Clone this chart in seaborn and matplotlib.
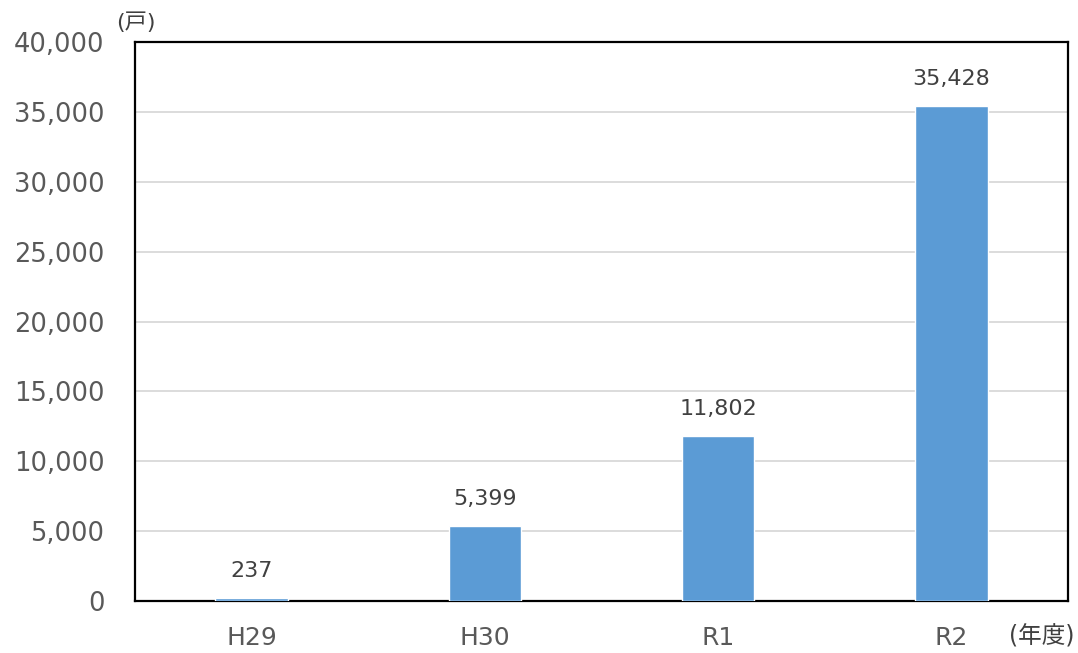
import pandas as pd
import matplotlib.pyplot as plt
import seaborn as sns

# data
years = ['H29', 'H30', 'R1', 'R2']
households = [237, 5399, 11802, 35428]
y_ticks = [0, 5000, 10000, 15000, 20000, 25000, 30000, 35000, 40000]

df = pd.DataFrame({'年度': years, '戸数': households})

sns.set_style('white')
plt.rcParams['font.family'] = ['DejaVu Sans', 'Noto Sans CJK JP']

fig = plt.figure(figsize=(10.78, 6.53), dpi=100)
ax = fig.add_axes([0.1252, 0.0796, 0.8655, 0.856])

sns.barplot(data=df, x='年度', y='戸数', color='#5b9bd5', width=0.31,
            saturation=1, ax=ax, zorder=3)

ax.set_ylim(0, 40000)
ax.set_yticks(y_ticks)
ax.set_yticklabels([f'{v:,}' for v in y_ticks])
ax.yaxis.grid(True, color='#d9d9d9', linewidth=1.3, zorder=0)
ax.set_axisbelow(True)

ax.tick_params(axis='y', length=0, pad=22, labelsize=18.5, labelcolor='#595959')
ax.tick_params(axis='x', length=0, pad=18, labelsize=18, labelcolor='#595959')
ax.set_xlabel('')
ax.set_ylabel('')

for s in ax.spines.values():
    s.set_visible(True)
    s.set_color('black')
    s.set_linewidth(1.6)

ax.bar_label(ax.containers[0], labels=[f'{v:,}' for v in households],
             padding=12, fontsize=16, color='#404040')

fig.text(0.126, 0.965, '(戸)', fontsize=16, color='#404040', ha='center', va='center')
fig.text(0.9965, 0.026, '(年度)', fontsize=17, color='#404040', ha='right', va='center')

fig.savefig('out.png', dpi=100)
